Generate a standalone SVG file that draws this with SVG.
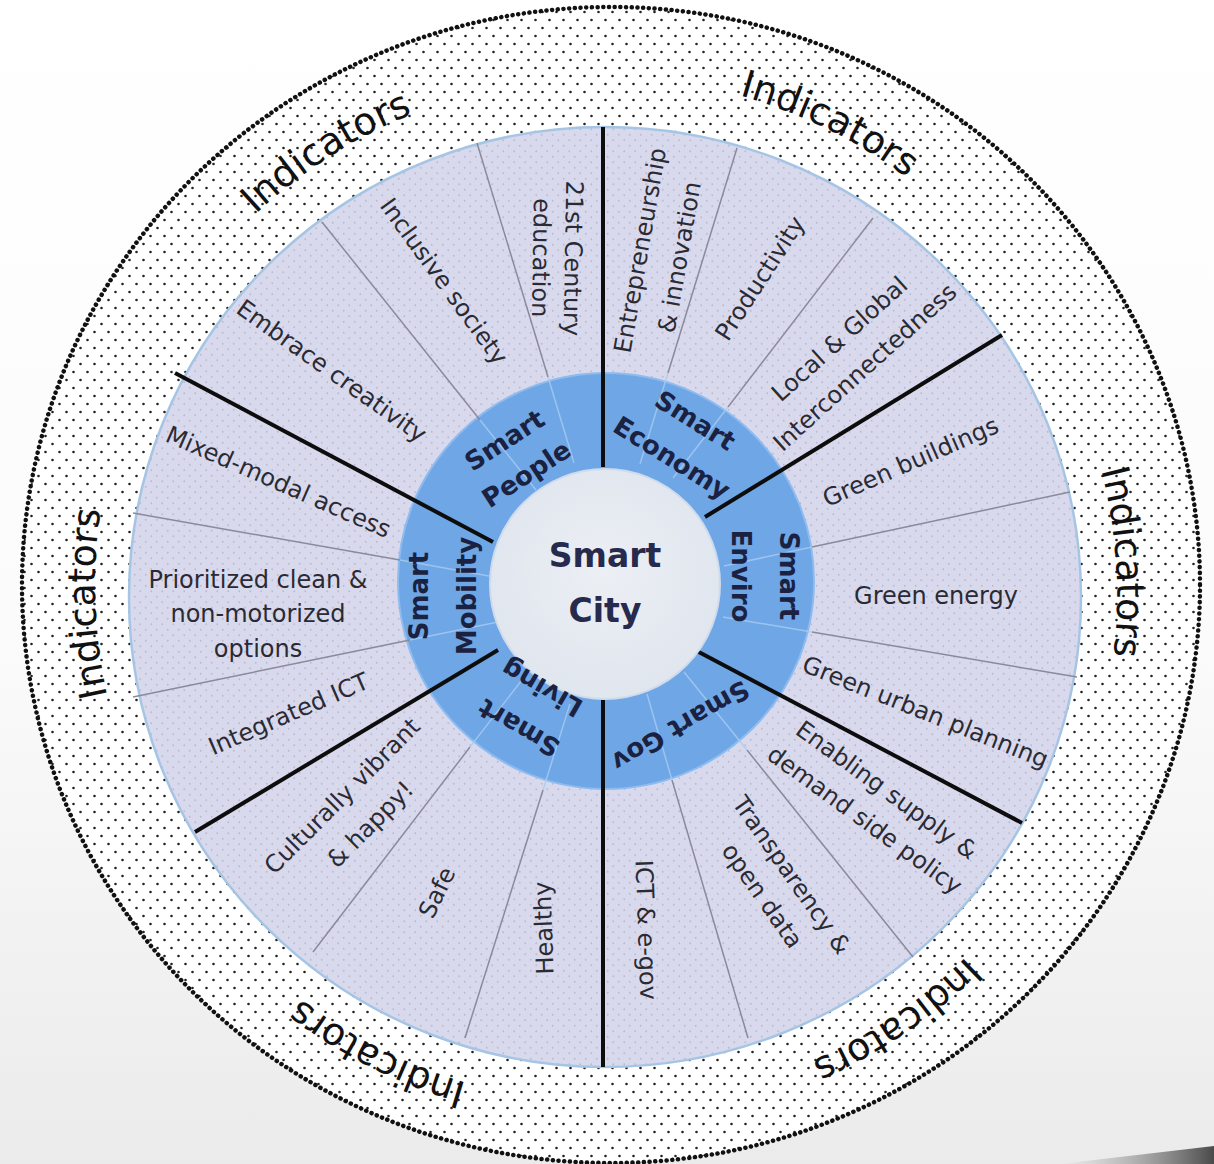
<svg xmlns="http://www.w3.org/2000/svg" width="1214" height="1164" viewBox="0 0 1214 1164">
<defs>
<style>
.item{font-family:"DejaVu Sans",sans-serif;font-size:24px;fill:#2a2a33;text-anchor:middle}
.lbl{font-family:"DejaVu Sans",sans-serif;font-size:26px;font-weight:bold;fill:#1b2140;text-anchor:middle}
.ctr{font-family:"DejaVu Sans",sans-serif;font-size:33px;font-weight:bold;fill:#262a4c;text-anchor:middle}
.ind{font-family:"DejaVu Sans",sans-serif;font-size:38px;fill:#111;text-anchor:middle}
.main{stroke:#0d0d0d;stroke-width:4;fill:none}
.sub{stroke:#8a8a9a;stroke-width:1.5;fill:none}
.subin{stroke:#a8ccf2;stroke-width:1.5;fill:none;opacity:.8}
</style>
<pattern id="dotsBlack" width="14" height="16" patternUnits="userSpaceOnUse">
<circle cx="3.5" cy="4" r="1.3" fill="#222"/>
<circle cx="10.5" cy="12" r="1.3" fill="#222"/>
</pattern>
<pattern id="dotsLav" width="11" height="11" patternUnits="userSpaceOnUse">
<rect width="11" height="11" fill="#d9d9ed"/>
<circle cx="2.75" cy="2.75" r="0.9" fill="#babad0"/>
<circle cx="8.25" cy="8.25" r="0.9" fill="#babad0"/>
</pattern>
<linearGradient id="bg" x1="0" y1="0" x2="0" y2="1">
<stop offset="0" stop-color="#ffffff"/>
<stop offset="0.55" stop-color="#fbfbfb"/>
<stop offset="1" stop-color="#ebebeb"/>
</linearGradient>
<linearGradient id="dark" x1="0" y1="0" x2="1" y2="0">
<stop offset="0" stop-color="#9a9a9a" stop-opacity="0"/>
<stop offset="1" stop-color="#4a4a4a"/>
</linearGradient>
<radialGradient id="cityG" cx="0.5" cy="0.45" r="0.6">
<stop offset="0" stop-color="#eceff4"/>
<stop offset="1" stop-color="#dfe5ee"/>
</radialGradient>
<path id="indPath" d="M 166.1 844 A 508 508 0 1 1 1045.9 336 A 508 508 0 1 1 166.1 844"/>
</defs>

<g id="background">
<rect width="1214" height="1164" fill="url(#bg)"/>
<path d="M 1060 1164 L 1214 1146 L 1214 1164 Z" fill="url(#dark)"/>
</g>

<g id="indicators-ring">
<ellipse cx="611" cy="585" rx="589" ry="578" fill="#ffffff"/>
<ellipse cx="611" cy="585" rx="589" ry="578" fill="url(#dotsBlack)"/>
<ellipse cx="611" cy="585" rx="589" ry="578" fill="none" stroke="#111" stroke-width="4.5" stroke-dasharray="0.1 5.6" stroke-linecap="round"/>
<text class="ind"><textPath href="#indPath" startOffset="253.6">Indicators</textPath></text>
<text class="ind"><textPath href="#indPath" startOffset="781.1">Indicators</textPath></text>
<text class="ind"><textPath href="#indPath" startOffset="1301.6">Indicators</textPath></text>
<text class="ind"><textPath href="#indPath" startOffset="1846.9">Indicators</textPath></text>
<text class="ind"><textPath href="#indPath" startOffset="2375.3">Indicators</textPath></text>
<text class="ind"><textPath href="#indPath" startOffset="2915.3">Indicators</textPath></text>
</g>

<g id="items-ring">
<ellipse cx="605" cy="597" rx="476" ry="470" fill="url(#dotsLav)" stroke="#a6c5e4" stroke-width="2.5"/>
</g>

<g id="sector-ring">
<circle cx="606" cy="581" r="208" fill="#6ea6e6" stroke="#8fbcef" stroke-width="2"/>
</g>

<g id="connectors">
<line class="sub" x1="477" y1="143" x2="548" y2="377"/>
<line class="sub" x1="322" y1="222" x2="480" y2="420"/>
<line class="sub" x1="737" y1="148" x2="668" y2="373"/>
<line class="sub" x1="873" y1="218" x2="728" y2="407"/>
<line class="sub" x1="1070" y1="492" x2="812" y2="547"/>
<line class="sub" x1="1077" y1="677" x2="812" y2="632"/>
<line class="sub" x1="913" y1="957" x2="747" y2="750"/>
<line class="sub" x1="748" y1="1038" x2="672" y2="780"/>
<line class="sub" x1="465" y1="1038" x2="543" y2="790"/>
<line class="sub" x1="313" y1="952" x2="470" y2="747"/>
<line class="sub" x1="133" y1="697" x2="410" y2="640"/>
<line class="sub" x1="133" y1="513" x2="400" y2="560"/>
<line class="subin" x1="548" y1="377" x2="574" y2="463"/>
<line class="subin" x1="480" y1="420" x2="536" y2="490"/>
<line class="subin" x1="668" y1="373" x2="640" y2="464"/>
<line class="subin" x1="728" y1="407" x2="673" y2="478"/>
<line class="subin" x1="812" y1="547" x2="724" y2="566"/>
<line class="subin" x1="812" y1="632" x2="723" y2="617"/>
<line class="subin" x1="747" y1="750" x2="684" y2="672"/>
<line class="subin" x1="672" y1="780" x2="647" y2="694"/>
<line class="subin" x1="543" y1="790" x2="570" y2="704"/>
<line class="subin" x1="470" y1="747" x2="525" y2="676"/>
<line class="subin" x1="410" y1="640" x2="498" y2="622"/>
<line class="subin" x1="400" y1="560" x2="489" y2="576"/>
<line class="main" x1="603" y1="127" x2="603" y2="467"/>
<line class="main" x1="1002" y1="335" x2="705" y2="517"/>
<line class="main" x1="1022" y1="823" x2="695" y2="650"/>
<line class="main" x1="603" y1="700" x2="603" y2="1067"/>
<line class="main" x1="195" y1="832" x2="498" y2="650"/>
<line class="main" x1="175" y1="373" x2="493" y2="542"/>
</g>

<g id="smart-city">
<circle cx="605" cy="584" r="115" fill="url(#cityG)" stroke="#cfdbec" stroke-width="2"/>
<text class="ctr" x="605" y="567">Smart</text>
<text class="ctr" x="605" y="622">City</text>
</g>

<g id="smart-people">
<text class="lbl" transform="translate(516 458) rotate(-33)"><tspan x="0" y="-12">Smart</tspan><tspan x="0" y="28">People</tspan></text>
<text class="item" transform="translate(556 258) rotate(91)"><tspan x="0" y="-9">21st Century</tspan><tspan x="0" y="23">education</tspan></text>
<text class="item" transform="translate(443 282) rotate(54)" y="7">Inclusive society</text>
<text class="item" transform="translate(331 372) rotate(35.5)" y="7">Embrace creativity</text>
</g>

<g id="smart-economy">
<text class="lbl" transform="translate(683 440) rotate(32)"><tspan x="0" y="-14">Smart</tspan><tspan x="0" y="30">Economy</tspan></text>
<text class="item" transform="translate(661 254) rotate(-80)"><tspan x="0" y="-13">Entrepreneurship</tspan><tspan x="0" y="27">&amp; innovation</tspan></text>
<text class="item" transform="translate(761 279) rotate(-57)" y="7">Productivity</text>
<text class="item" transform="translate(853 354) rotate(-42)"><tspan x="0" y="-12">Local &amp; Global</tspan><tspan x="0" y="26">Interconnectedness</tspan></text>
</g>

<g id="smart-enviro">
<text class="lbl" transform="translate(764 576) rotate(90)"><tspan x="0" y="-16">Smart</tspan><tspan x="0" y="32">Enviro</tspan></text>
<text class="item" transform="translate(911 463) rotate(-23.6)" y="7">Green buildings</text>
<text class="item" transform="translate(936 597)" y="7">Green energy</text>
<text class="item" transform="translate(925 713) rotate(21.8)" y="7">Green urban planning</text>
</g>

<g id="smart-gov">
<text class="lbl" transform="translate(680 725) rotate(150)" y="8">Smart Gov</text>
<text class="item" transform="translate(875 806) rotate(36)"><tspan x="0" y="-11.5">Enabling supply &amp;</tspan><tspan x="0" y="25.5">demand side policy</tspan></text>
<text class="item" transform="translate(776 886) rotate(55)"><tspan x="0" y="-11">Transparency &amp;</tspan><tspan x="0" y="25">open data</tspan></text>
<text class="item" transform="translate(645 930) rotate(88)" y="7">ICT &amp; e-gov</text>
</g>

<g id="smart-living">
<text class="lbl" transform="translate(531 707) rotate(210)"><tspan x="0" y="-15">Smart</tspan><tspan x="0" y="31">Living</tspan></text>
<text class="item" transform="translate(545 928) rotate(-92)" y="7">Healthy</text>
<text class="item" transform="translate(438 893) rotate(-64)" y="7">Safe</text>
<text class="item" transform="translate(357 811) rotate(-45)"><tspan x="0" y="-13">Culturally vibrant</tspan><tspan x="0" y="27">&amp; happy!</tspan></text>
</g>

<g id="smart-mobility">
<text class="lbl" transform="translate(444 596) rotate(-90)"><tspan x="0" y="-16">Smart</tspan><tspan x="0" y="32">Mobility</tspan></text>
<text class="item" transform="translate(289 715) rotate(-23.4)" y="7">Integrated ICT</text>
<text class="item"><tspan x="258" y="588">Prioritized clean &amp;</tspan><tspan x="258" y="622">non-motorized</tspan><tspan x="258" y="657">options</tspan></text>
<text class="item" transform="translate(278 483) rotate(23.7)" y="7">Mixed-modal access</text>
</g>
</svg>
